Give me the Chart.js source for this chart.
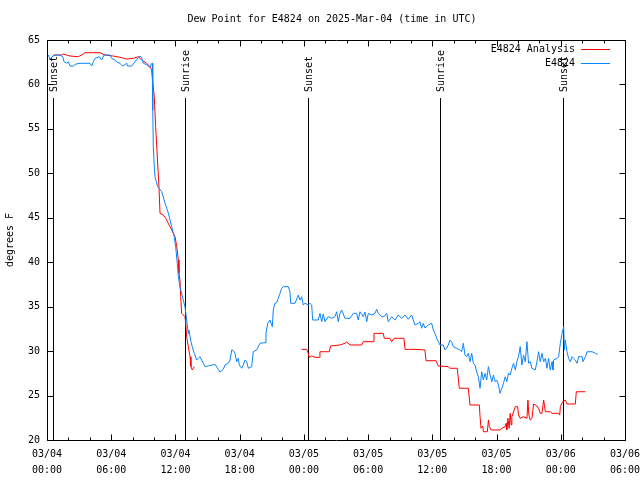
<!DOCTYPE html>
<html><head><meta charset="utf-8">
<script src="https://cdn.jsdelivr.net/npm/chart.js@4"></script>
<style>html,body{margin:0;padding:0;background:#fff}canvas{display:block}</style>
</head><body>
<canvas id="c" width="640" height="480"></canvas>
<script>
const TITLE = "Dew Point for E4824 on 2025-Mar-04 (time in UTC)";
const Y_TITLE = "degrees F";
const seriesNames = ["E4824 Analysis", "E4824"];
const seriesColors = ["#ff0000", "#0a84ff"];
const xTickDates = ["03/04","03/04","03/04","03/04","03/05","03/05","03/05","03/05","03/06","03/06"];
const xTickTimes = ["00:00","06:00","12:00","18:00","00:00","06:00","12:00","18:00","00:00","06:00"];
const yTickValues = [20,25,30,35,40,45,50,55,60,65];
const sunTimes = [0.56, 12.9, 24.38, 36.71, 48.2];
const sunLabels = ["Sunset","Sunrise","Sunset","Sunrise","Sunset"];

// hours since 03/04 00:00 UTC
const analysisTimes = [0.59,1.37,1.52,2.15,2.92,3.24,3.55,4.95,5.42,6.19,6.82,7.45,8.06,8.53,8.85,9.31,9.62,9.78,9.84,10.02,10.15,10.27,10.46,10.56,10.86,11.09,11.33,11.65,11.96,12.12,12.27,12.33,12.42,12.49,12.58,12.89,12.96,13.05,13.2,13.36,13.45,13.57,13.76,
18.0,
23.79,24.26,24.41,24.5,24.73,25.04,25.44,25.5,26.37,26.5,27.37,27.84,28.0,28.31,29.4,29.55,30.49,30.55,31.42,31.51,32.04,32.2,32.42,33.35,33.45,34.38,35.31,35.41,36.34,36.56,37.49,37.65,38.33,38.52,39.36,39.52,40.39,40.46,40.55,40.71,40.77,41.14,41.24,41.33,41.49,42.33,42.49,42.81,42.9,42.96,43.06,43.18,43.27,43.37,43.43,43.75,43.97,44.05,44.21,44.52,44.84,44.93,45.02,45.15,45.31,45.46,45.77,45.93,46.08,46.24,46.4,46.56,47.02,47.18,47.8,47.9,47.96,48.17,48.42,48.58,49.36,49.45,50.3];
const analysisValues = [63.31,63.31,63.42,63.2,63.12,63.31,63.57,63.57,63.31,63.2,63.05,62.86,62.94,63.12,62.75,62.38,62.0,61.63,60.69,58.62,55.25,52.63,48.5,45.5,45.31,44.94,44.38,43.63,42.87,41.75,40.25,38.75,38.0,36.12,34.25,33.87,33.13,31.62,30.5,29.37,28.25,27.88,28.25,
null,
30.2,30.2,29.75,29.3,29.45,29.3,29.3,29.93,29.93,30.58,30.69,30.88,31.03,30.69,30.69,31.06,31.06,32.0,32.0,31.44,31.44,31.06,31.44,31.44,30.2,30.2,30.13,28.92,28.92,28.33,28.25,28.07,28.07,25.82,25.82,23.94,23.94,22.62,21.32,21.58,20.93,20.93,22.25,21.5,21.13,21.13,21.32,21.5,21.88,21.13,22.44,21.32,23.0,21.69,22.62,23.75,23.75,22.81,22.44,22.62,22.44,24.5,22.81,22.25,22.44,24.05,23.83,23.57,23.0,23.0,24.5,23.18,23.18,23.0,23.0,22.81,23.75,24.31,24.5,24.05,24.05,25.43,25.43];

const obsTimes = [0.12,0.28,0.56,0.84,1.21,1.47,1.59,1.84,1.99,2.15,2.46,2.71,3.08,4.02,4.18,4.33,4.48,4.89,5.11,5.33,5.89,6.04,6.35,6.54,6.82,7.07,7.45,7.52,7.91,8.22,8.53,8.69,8.85,9.0,9.31,9.62,9.78,9.84,9.86,9.9,9.93,10.04,10.09,10.34,10.71,10.84,11.02,11.33,11.65,11.89,12.02,12.17,12.27,12.42,12.73,12.89,13.05,13.2,13.26,13.45,13.57,13.76,13.98,14.13,14.29,14.45,14.76,15.07,15.69,16.0,16.16,16.47,16.63,16.94,17.1,17.26,17.41,17.56,17.72,17.87,17.96,18.19,18.34,18.5,18.66,18.81,19.12,19.27,19.59,19.9,20.37,20.46,20.62,20.83,21.05,21.14,21.3,21.46,21.77,21.93,22.08,22.54,22.7,22.77,23.17,23.48,23.63,23.79,23.94,24.1,24.41,24.57,24.73,24.82,25.34,25.5,25.66,25.81,25.97,26.28,26.6,26.9,27.06,27.21,27.37,27.53,27.84,28.31,28.62,28.93,29.08,29.24,29.55,29.71,29.87,30.02,30.33,30.64,30.8,30.95,31.27,31.48,31.74,31.88,32.2,32.51,32.82,33.14,33.45,33.75,34.07,34.22,34.38,34.69,34.85,35.0,35.15,35.31,35.62,35.94,36.09,36.25,36.41,36.56,36.71,37.02,37.18,37.34,37.49,37.65,37.8,37.96,38.27,38.58,38.74,38.89,39.05,39.2,39.36,39.52,39.68,39.83,39.99,40.14,40.3,40.46,40.61,40.77,40.93,41.08,41.24,41.4,41.56,41.71,41.87,42.02,42.18,42.33,42.49,42.65,42.81,42.96,43.12,43.27,43.43,43.59,43.75,43.9,44.05,44.21,44.37,44.52,44.68,44.84,44.99,45.15,45.31,45.62,45.77,45.93,46.08,46.24,46.4,46.56,46.71,46.86,47.02,47.18,47.27,47.33,47.65,47.8,47.96,48.12,48.27,48.33,48.42,48.58,48.73,48.89,49.05,49.2,49.36,49.52,49.67,49.99,50.08,50.3,50.46,50.92,51.24,51.45];
const obsValues = [63.31,62.86,63.2,63.31,63.31,63.12,62.56,62.38,62.56,62.07,62.07,62.3,62.38,62.38,62.07,62.56,62.94,63.12,62.75,63.31,63.31,62.94,62.75,62.5,62.38,62.07,62.38,62.07,62.07,62.56,63.05,63.2,62.98,62.38,62.22,61.93,62.38,62.38,60.5,57.1,53.0,50.4,49.6,48.5,47.93,47.45,46.66,45.54,44.0,42.87,41.75,39.88,38.37,37.25,35.75,35.0,33.5,32.0,32.38,31.06,30.5,29.75,29.0,29.19,29.37,29.0,28.25,28.33,28.52,27.95,27.65,27.95,28.44,28.63,29.0,30.13,30.05,29.75,28.81,29.19,28.44,28.07,28.44,29.0,28.81,28.07,28.25,29.93,30.13,30.88,30.95,32.0,33.13,33.5,32.75,34.63,35.38,35.45,36.5,37.07,37.25,37.25,36.68,35.38,35.38,36.31,35.75,36.12,35.19,35.38,35.19,35.38,35.19,33.5,33.5,34.25,33.31,34.17,33.31,33.87,33.69,33.87,34.43,33.31,34.25,34.63,33.69,33.69,34.25,34.25,33.5,34.43,33.87,34.4,33.31,34.25,34.06,34.25,34.7,34.25,33.87,33.87,34.25,33.31,33.87,33.5,34.06,33.69,34.06,33.58,34.06,33.5,32.94,33.13,33.31,32.57,33.13,32.6,32.94,33.13,32.38,32.0,31.44,31.06,30.69,30.69,30.13,30.32,30.69,31.25,31.06,30.5,30.32,30.13,29.93,30.88,29.56,29.37,29.75,28.81,29.75,28.63,28.44,27.68,27.12,25.82,27.68,26.75,27.5,26.75,28.25,27.31,26.56,27.31,26.56,26.75,26.19,25.25,25.82,26.38,27.12,26.56,27.5,27.31,28.07,28.63,27.88,28.81,29.37,30.5,28.44,29.56,28.81,31.06,28.63,28.81,28.07,27.88,28.81,29.93,28.81,29.75,28.81,29.19,28.07,29.19,27.88,28.81,27.88,29.0,29.19,29.37,30.88,32.0,32.75,30.13,31.25,29.93,29.19,28.81,29.37,29.19,29.0,28.63,29.37,29.37,28.81,29.37,29.93,29.93,29.75,29.64];

const MONO = '"DejaVu Sans Mono", "Liberation Mono", monospace';
const FONT = '10px ' + MONO;
const PLOT = {left: 47, right: 625, top: 40, bottom: 440};

const deco = {
  id: 'deco',
  beforeDatasetsDraw(chart) {
    const {ctx, chartArea: a, scales: {x}} = chart;
    ctx.save();
    ctx.strokeStyle = '#000'; ctx.lineWidth = 1;
    ctx.font = FONT; ctx.fillStyle = '#000';
    sunTimes.forEach((t, i) => {
      const px = Math.round(x.getPixelForValue(t)) + 0.5;
      ctx.beginPath(); ctx.moveTo(px, 98); ctx.lineTo(px, a.bottom); ctx.stroke();
      ctx.save();
      ctx.translate(px + 1, 92); ctx.rotate(-Math.PI / 2);
      ctx.textAlign = 'left'; ctx.textBaseline = 'middle';
      ctx.fillText(sunLabels[i], 0, 0);
      ctx.restore();
    });
    ctx.restore();
  },
  afterDraw(chart) {
    const {ctx, chartArea: a, scales: {x, y}} = chart;
    ctx.save();
    ctx.strokeStyle = '#000'; ctx.lineWidth = 1;
    const L = Math.round(a.left) + 0.5, R = Math.round(a.right) + 0.5;
    const T = Math.round(a.top) + 0.5, B = Math.round(a.bottom) + 0.5;
    ctx.beginPath(); ctx.rect(L, T, R - L, B - T); ctx.stroke();
    ctx.beginPath();
    for (let h = 0; h <= 54; h += 2) {
      const len = (h % 6 === 0) ? 6 : 3;
      const px = Math.round(x.getPixelForValue(h)) + 0.5;
      ctx.moveTo(px, B); ctx.lineTo(px, B - len);
      ctx.moveTo(px, T); ctx.lineTo(px, T + len);
    }
    yTickValues.forEach(v => {
      const py = Math.round(y.getPixelForValue(v)) + 0.5;
      ctx.moveTo(L, py); ctx.lineTo(L + 6, py);
      ctx.moveTo(R, py); ctx.lineTo(R - 6, py);
    });
    ctx.stroke();
    ctx.font = FONT; ctx.fillStyle = '#000';
    ctx.textAlign = 'center'; ctx.textBaseline = 'middle';
    ctx.fillText(TITLE, 332, 19);
    ctx.save(); ctx.translate(10, 240); ctx.rotate(-Math.PI / 2);
    ctx.fillText(Y_TITLE, 0, 0); ctx.restore();
    // legend
    ctx.textAlign = 'right';
    const rows = [49.5, 63.5];
    seriesNames.forEach((n, i) => {
      ctx.fillStyle = '#000';
      ctx.fillText(n, 575, rows[i]);
      ctx.strokeStyle = seriesColors[i];
      ctx.beginPath(); ctx.moveTo(581, Math.round(rows[i]) - 0.5); ctx.lineTo(610, Math.round(rows[i]) - 0.5); ctx.stroke();
    });
    ctx.restore();
  }
};

const analysisData = analysisTimes.map((t, i) => ({x: t, y: analysisValues[i]}));
const obsData = obsTimes.map((t, i) => ({x: t, y: obsValues[i]}));

new Chart(document.getElementById('c'), {
  type: 'line',
  data: {
    datasets: [
      {label: seriesNames[0], data: analysisData, borderColor: seriesColors[0], borderWidth: 1, pointRadius: 0, tension: 0, spanGaps: false, order: 1},
      {label: seriesNames[1], data: obsData, borderColor: seriesColors[1], borderWidth: 1, pointRadius: 0, tension: 0, spanGaps: false, order: 0}
    ]
  },
  options: {
    responsive: false, animation: false, devicePixelRatio: 1,
    layout: {padding: {left: 0, top: PLOT.top, right: 640 - PLOT.right, bottom: 0}},
    plugins: {legend: {display: false}, tooltip: {enabled: false}, title: {display: false}},
    scales: {
      x: {
        type: 'linear', min: 0, max: 54,
        grid: {display: false, drawTicks: false}, border: {display: false},
        ticks: {stepSize: 6, autoSkip: false, maxRotation: 0, padding: 6, color: '#000',
          font: {family: MONO, size: 10, lineHeight: 1.6},
          callback: (v) => { const i = Math.round(v / 6); return [xTickDates[i], xTickTimes[i]]; }},
        afterFit: (s) => { s.height = 480 - PLOT.bottom; s.paddingLeft = 0; s.paddingRight = 0; }
      },
      y: {
        type: 'linear', min: 20, max: 65,
        grid: {display: false, drawTicks: false}, border: {display: false},
        ticks: {stepSize: 5, padding: 7, color: '#000', font: {family: MONO, size: 10}},
        afterFit: (s) => { s.width = PLOT.left; s.paddingTop = 0; s.paddingBottom = 0; }
      }
    }
  },
  plugins: [deco]
});
</script>
</body></html>
